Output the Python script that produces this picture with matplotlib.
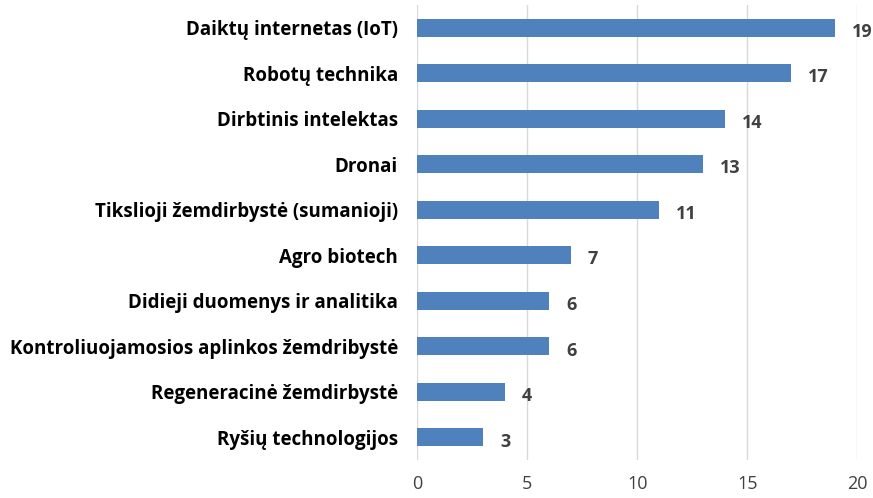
import matplotlib.pyplot as plt

# Data (top to bottom)
categories = ['Daiktų internetas (IoT)', 'Robotų technika', 'Dirbtinis intelektas',
              'Dronai', 'Tikslioji žemdirbystė (sumanioji)', 'Agro biotech',
              'Didieji duomenys ir analitika', 'Kontroliuojamosios aplinkos žemdribystė',
              'Regeneracinė žemdirbystė', 'Ryšių technologijos']
values = [19, 17, 14, 13, 11, 7, 6, 6, 4, 3]

plt.rcParams['font.family'] = ['Open Sans', 'DejaVu Sans']

fig = plt.figure(figsize=(8.73, 4.98), dpi=100)
ax = fig.add_axes([0.478, 0.076, 0.504, 0.914])

y = list(range(len(categories)))
ax.barh(y, values, height=0.4, color='#4f81bd', zorder=3)

# value labels next to bars
for yi, v in zip(y, values):
    ax.annotate(str(v), (v, yi), xytext=(12, -3), textcoords='offset points',
                va='center', ha='left', fontsize=13, fontweight='bold', color='#404040')

ax.set_xlim(0, 20)
ax.set_ylim(len(categories) - 0.5, -0.5)
ax.set_xticks([0, 5, 10, 15, 20])
ax.grid(axis='x', color='#d9d9d9', linewidth=1, zorder=0)
ax.set_yticks(y)
ax.set_yticklabels(categories, fontsize=13.5, fontweight='bold', color='black')
ax.tick_params(axis='y', length=0, pad=14)
ax.tick_params(axis='x', length=0, labelsize=13, colors='#404040', pad=11)
for s in ax.spines.values():
    s.set_visible(False)

fig.savefig('out.png', dpi=100)
